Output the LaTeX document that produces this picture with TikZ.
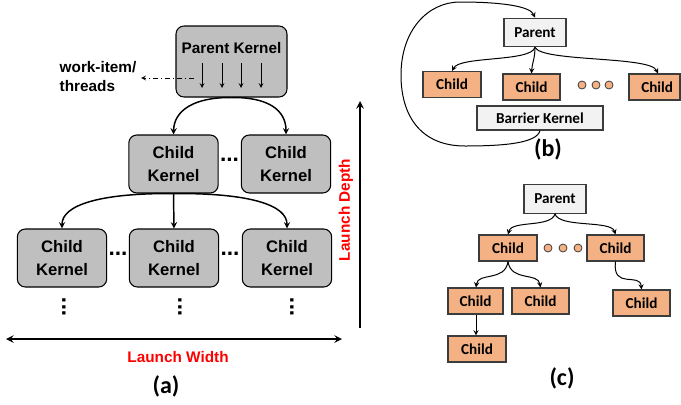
\documentclass[tikz,border=0pt]{standalone}
\usepackage{fontspec}
\setmainfont{Liberation Sans}
\newfontfamily\calibri{Carlito}
\usepackage{tikz}

\definecolor{kgray}{RGB}{191,191,191}
\definecolor{kedge}{RGB}{60,60,60}
\definecolor{corange}{RGB}{244,177,131}
\definecolor{plight}{RGB}{242,242,242}

\begin{document}
\begin{tikzpicture}[x=0.75pt,y=0.75pt,yscale=-1,xscale=1,
  kbox/.style={draw=black,fill=kgray,rounded corners=6pt,line width=0.8pt,minimum width=67pt,minimum height=43.5pt,inner sep=0pt,align=center,font=\fontsize{12.5}{17}\selectfont\bfseries},
  karr/.style={-stealth,line width=1.1pt},
  thr/.style={-stealth,line width=0.6pt},
  pbox/.style={draw=kedge,fill=plight,line width=0.8pt,minimum width=46.5pt,minimum height=21.5pt,inner sep=0pt,font=\calibri\fontsize{11.4}{13}\selectfont\bfseries},
  cbox/.style={draw=kedge,fill=corange,line width=0.8pt,minimum width=43.5pt,minimum height=19.5pt,inner sep=0pt,font=\calibri\fontsize{11.4}{13}\selectfont\bfseries},
  odot/.style={circle,draw=kedge,fill=corange,minimum size=6pt,inner sep=0pt,line width=0.6pt},
  tarr/.style={-stealth,line width=0.75pt},
  figlbl/.style={font=\calibri\fontsize{18}{20}\selectfont\bfseries},
  dots/.style={font=\fontsize{17}{17}\selectfont\bfseries,inner sep=0pt},
  red lbl/.style={text=red,font=\fontsize{11.5}{13}\selectfont\bfseries}
]
\useasboundingbox (0,0) rectangle (681,404);

%%%%% (a)
%Parent kernel
\node[kbox,minimum width=83.25pt,minimum height=53.25pt] (pk) at (231.5,61.5) {};
\node[font=\fontsize{11.5}{13}\selectfont\bfseries] (pkt) at (231.5,48) {Parent Kernel};
\foreach \x in {202,222,241,261} \draw[thr] (\x,63) -- (\x,88);

% Text Node
\node[anchor=west,align=left,font=\fontsize{11.5}{14.5}\selectfont\bfseries] (wi) at (55,76.5) {work-item/\\threads};
\draw[thr,dash pattern={on 4pt off 2pt on 1pt off 2pt}] (194,78) -- (wi.east |- 0,78);

%Child kernels
\node[kbox] (ck1) at (173.5,164) {Child\\Kernel};
\node[kbox] (ck2) at (286,164) {Child\\Kernel};
\node[kbox] (ck3) at (62,258) {Child\\Kernel};
\node[kbox] (ck4) at (174,258) {Child\\Kernel};
\node[kbox] (ck5) at (287,258) {Child\\Kernel};

\node[dots] (d1) at (229.5,160) {...};
\node[dots] (d2) at (118,254) {...};
\node[dots] (d3) at (230,254) {...};
\node[dots,rotate=90] (v1) at (64,307) {...};
\node[dots,rotate=90] (v2) at (180,307) {...};
\node[dots,rotate=90] (v3) at (292,307) {...};

%Curve Lines
\draw[karr] (pk.south) .. controls (195,97) and (174,110) .. (ck1.north);
\draw[karr] (pk.south) .. controls (268,97) and (286,110) .. (ck2.north);
\draw[karr] (ck1.south) .. controls (100,193) and (62,205) .. (ck3.north);
\draw[karr] (ck1.south) -- (ck4.north);
\draw[karr] (ck1.south) .. controls (250,193) and (287,205) .. (ck5.north);

%Launch width / depth
\draw[stealth-stealth,line width=1.5pt] (6,339) -- (342,339);
\node[red lbl] (lw) at (178,357) {Launch Width};
\draw[-stealth,line width=1.5pt] (360,328) -- (360,101);
\node[red lbl,rotate=90] (ld) at (346,210) {Launch Depth};
\node[figlbl] (ca) at (166,386) {(a)};

%%%%% (b)
\node[pbox] (bp) at (535,32.5) {Parent};
\node[cbox] (bc1) at (452,84.5) {Child};
\node[cbox,minimum width=42.75pt] (bc2) at (531.5,87) {Child};
\node[cbox,minimum width=38.25pt] (bc3) at (654.5,87) {\hspace{4pt}Child};
\node[odot] (bo1) at (582,85) {};
\node[odot] (bo2) at (596,85) {};
\node[odot] (bo3) at (609,85) {};
\node[pbox,minimum width=94.5pt,minimum height=18pt] (bb) at (540,118) {Barrier Kernel};

\draw[tarr] (bp.south) .. controls (531,62) and (460,56) .. (bc1.north);
\draw[tarr] (bp.south) .. controls (535,58) and (532,64) .. (bc2.north);
\draw[tarr] (bp.south) .. controls (542,62) and (650,56) .. (bc3.north -| 658,0);
\draw[tarr] (bb.south) .. controls (537,143) and (505,146) .. (465,146) .. controls (420,146) and (401,115) .. (401,75) .. controls (401,30) and (428,2) .. (460,2) .. controls (500,2) and (530,6) .. (bp.north);
\node[figlbl] (cb) at (548,149) {(b)};

%%%%% (c)
\node[pbox] (cp) at (555,199) {Parent};
\node[cbox] (cc1) at (508,248) {Child};
\node[cbox,minimum width=42.75pt] (cc2) at (615.5,248) {Child};
\node[odot] (co1) at (548,248) {};
\node[odot] (co2) at (563,248) {};
\node[odot] (co3) at (578,248) {};
\node[cbox,minimum width=41.25pt] (cc3) at (475.5,301) {Child};
\node[cbox,minimum width=42.75pt] (cc4) at (540.5,301) {Child};
\node[cbox,minimum width=42.75pt] (cc5) at (641.5,303) {Child};
\node[cbox] (cc6) at (477,349) {Child};

\draw[tarr] (cp.south) .. controls (551,228) and (512,220) .. (cc1.north);
\draw[tarr] (cp.south) .. controls (559,228) and (611,220) .. (cc2.north);
\draw[tarr] (cc1.south) .. controls (505,282) and (478,272) .. (cc3.north -| 476,0);
\draw[tarr] (cc1.south) .. controls (511,282) and (538,272) .. (cc4.north);
\draw[tarr] (cc3.south -| 476,0) -- (cc6.north -| 476,0);
\draw[tarr] (cc2.south) .. controls (612,290) and (640,272) .. (cc5.north);
\node[figlbl] (cc) at (562,378) {(c)};

\end{tikzpicture}
\end{document}
